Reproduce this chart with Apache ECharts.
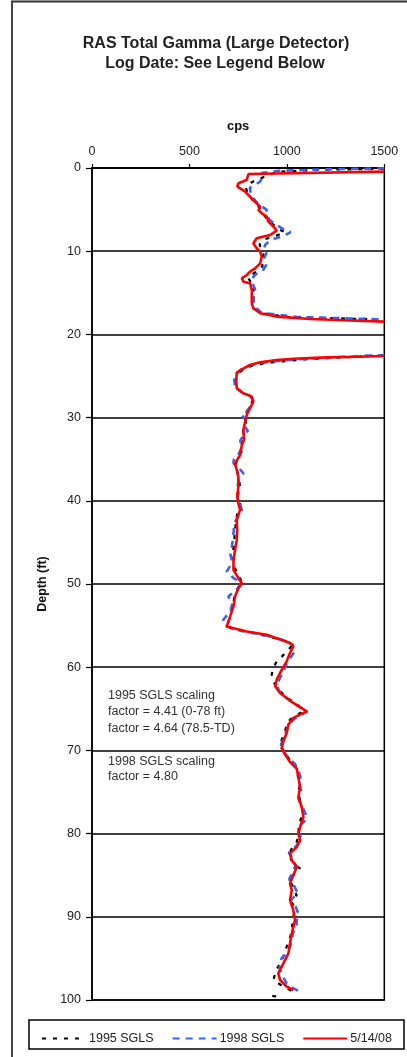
<!DOCTYPE html>
<html>
<head>
<meta charset="utf-8">
<script src="https://cdn.jsdelivr.net/npm/echarts@6/dist/echarts.min.js"></script>
<style>
  html, body { margin: 0; padding: 0; background: #fff; }
  #chart { width: 407px; height: 1057px; }
</style>
</head>
<body>
<div id="chart"></div>
<script>
// Depth axis ticks (ft) and cps axis ticks
const depthTicks = [0, 10, 20, 30, 40, 50, 60, 70, 80, 90, 100];
const cpsTicks = [0, 500, 1000, 1500];

// 1995 SGLS log (depth ft / cps); null = off-scale break
const depth95 = [0.1, 0.2, 0.45, 0.9, 1.3, 1.7, 2.4, 3.2, 4.0, 4.8, 5.6, 6.2, 6.8, 7.4, 7.7, 8.2, 8.6, 9.2, 9.8, 10.4, 11.0, 11.8, 12.4, 12.8, 13.2, 13.7, 14.0, 15.0, 16.0, 16.8, 17.4, 17.9, 18.1, 18.2, 20.5,
  22.5, 22.7, 23.0, 23.4, 23.9, 24.6, 25.5, 26.5, 27.2, 27.5, 28.2, 29.0, 29.8, 30.6, 31.5, 32.4, 33.2, 34.0, 34.8, 35.6, 36.4, 37.2, 38.3, 39.2, 40.0, 40.5, 41.3, 42.2, 43.1, 44.0, 45.1, 46.0, 47.0, 48.0, 49.0, 49.8, 50.6, 51.6, 52.6, 53.6, 54.6, 55.2, 55.7, 56.2, 56.9, 57.4, 58.0, 58.7, 59.3, 60.1, 60.9, 61.5, 62.2, 63.0, 63.8, 64.6, 65.3, 66.0, 66.6, 67.3, 68.1, 68.9, 69.5, 70.2, 71.0, 71.8, 72.6, 73.4, 74.3, 75.2, 76.0, 76.9, 77.8, 78.6, 79.4, 80.2, 81.0, 81.8, 82.6, 83.5, 84.2, 85.0, 85.8, 86.6, 87.4, 88.2, 89.0, 89.8, 90.6, 91.4, 92.2, 93.0, 93.8, 94.8, 95.6, 96.3, 96.9, 97.6, 98.4, 99.0, 99.3, 99.5, 99.6];
const cps95 = [1500, 1200, 950, 900, 860, 820, 790, 800, 830, 860, 880, 900, 930, 960, 990, 940, 880, 860, 870, 880, 870, 875, 850, 820, 800, 815, 830, 830, 825, 830, 860, 1000, 1300, 1500, null,
  1500, 1330, 1090, 900, 800, 752, 738, 742, 790, 832, 820, 800, 784, 790, 775, 782, 765, 770, 748, 738, 745, 752, 760, 746, 752, 762, 748, 740, 736, 730, 734, 722, 726, 732, 752, 770, 748, 730, 722, 712, 700, 695, 780, 890, 1000, 1025, 1005, 975, 948, 930, 922, 930, 940, 970, 1010, 1060, 1085, 1030, 1005, 995, 985, 970, 965, 990, 1010, 1045, 1050, 1060, 1066, 1055, 1070, 1078, 1080, 1066, 1060, 1062, 1050, 1025, 1010, 1030, 1068, 1030, 1018, 1038, 1050, 1025, 1040, 1035, 1030, 1025, 1020, 1010, 995, 982, 965, 948, 939, 931, 982, 1033, null, 925, 950];

// 1998 SGLS log
const depth98 = [0.05, 0.15, 0.35, 0.6, 1.0, 1.7, 2.1, 2.4, 3.2, 4.0, 4.6, 5.0, 5.6, 6.2, 6.7, 7.1, 7.6, 7.7, 8.2, 8.6, 9.2, 9.8, 10.2, 10.8, 11.6, 12.2, 12.6, 13.0, 13.6, 14.2, 14.8, 15.4, 16.2, 16.8, 17.4, 17.9, 18.1, 18.2, 20.5,
  22.5, 22.6, 22.8, 23.0, 23.3, 23.7, 24.3, 24.8, 25.5, 26.4, 27.0, 27.5, 28.1, 28.9, 29.4, 29.7, 30.3, 31.0, 31.6, 32.1, 32.8, 33.4, 34.3, 35.0, 35.5, 36.0, 36.7, 37.3, 38.2, 39.0, 39.8, 40.6, 41.1, 41.9, 42.8, 43.9, 44.8, 45.5, 46.3, 47.2, 48.0, 48.5, 49.2, 49.9, 50.6, 51.5, 52.3, 53.2, 54.3, 55.0, 55.6, 56.1, 56.8, 57.3, 58.1, 58.8, 59.5, 60.4, 61.3, 62.0, 62.8, 63.6, 64.5, 65.3, 66.0, 66.7, 67.5, 68.4, 69.3, 70.0, 70.8, 71.6, 72.4, 73.2, 74.0, 75.0, 75.9, 76.8, 77.6, 78.2, 79.0, 79.8, 80.6, 81.5, 82.3, 83.0, 83.8, 84.6, 85.5, 86.4, 87.2, 88.0, 88.8, 89.6, 90.4, 91.2, 92.0, 92.8, 93.6, 94.3, 95.0, 95.6, 96.4, 97.2, 98.0, 98.6, 99.2];
const cps98 = [1500, 1200, 960, 870, 880, 860, 830, 810, 815, 840, 870, 895, 900, 910, 935, 965, 1000, 1020, 980, 920, 890, 880, 895, 885, 895, 880, 850, 830, 820, 830, 840, 830, 830, 840, 870, 1050, 1350, 1500, null,
  1500, 1380, 1210, 1050, 900, 810, 760, 740, 730, 735, 770, 815, 830, 805, 790, 769, 790, 782, 800, 778, 760, 772, 755, 728, 726, 752, 777, 755, 748, 752, 745, 762, 769, 748, 730, 726, 722, 718, 709, 718, 705, 691, 722, 765, 745, 700, 720, 712, 674, 680, 760, 880, 990, 1030, 1040, 1020, 1000, 985, 965, 950, 958, 990, 1045, 1105, 1050, 1015, 1000, 985, 970, 980, 1005, 1040, 1058, 1070, 1062, 1075, 1060, 1080, 1095, 1102, 1070, 1058, 1075, 1048, 1010, 1030, 1045, 1030, 1012, 1040, 1055, 1020, 1045, 1059, 1050, 1051, 1030, 1025, 1016, 1000, 973, 960, 965, 980, 999, 1033, 1085];

// 5/14/08 log
const depth08 = [0.44, 0.72, 1.44, 1.84, 2.24, 2.84, 3.85, 4.65, 5.05, 5.45, 5.85, 6.45, 7.05, 7.53, 8.05, 8.45, 9.05, 9.65, 10.05, 10.66, 11.46, 12.06, 12.46, 12.86, 13.26, 13.46, 13.66, 13.86, 14.66, 15.46, 16.26, 16.86, 17.46, 17.86, 18.14, 18.3, 18.46, 20.5,
  22.6, 22.68, 22.76, 22.92, 23.08, 23.36, 23.68, 24.2, 24.6, 25.48, 26.48, 27.08, 27.48, 28.08, 28.88, 29.68, 30.48, 31.48, 32.68, 33.28, 34.5, 35.5, 36.3, 37.1, 38.3, 39.5, 40.3, 41.1, 42.3, 43.5, 44.7, 45.9, 47.1, 48.3, 49.3, 49.9, 50.5, 51.5, 52.7, 53.9, 55.1, 55.7, 56.1, 57.1, 57.5, 58.3, 59.3, 60.3, 61.5, 62.3, 63.1, 64.3, 65.3, 66.1, 66.9, 67.9, 68.9, 69.7, 70.5, 71.4, 72.2, 73.2, 74.4, 75.6, 76.8, 78.0, 79.2, 80.0, 80.8, 81.6, 82.4, 83.2, 84.0, 85.0, 86.0, 86.8, 88.0, 89.2, 90.4, 92.0, 93.2, 94.4, 95.6, 96.8, 97.6, 98.4, 98.8];
const cps08 = [1500, 803, 794, 751, 746, 786, 828, 863, 854, 871, 897, 905, 931, 948, 914, 845, 828, 845, 863, 871, 863, 837, 811, 794, 769, 760, 777, 811, 820, 820, 820, 828, 863, 948, 1119, 1290, 1500, null,
  1500, 1375, 1204, 1033, 948, 863, 811, 769, 743, 740, 743, 777, 820, 828, 811, 794, 786, 777, 780, 769, 760, 734, 743, 751, 751, 746, 751, 760, 743, 745, 743, 734, 726, 726, 751, 769, 751, 734, 726, 709, 691, 794, 897, 1016, 1033, 1016, 999, 974, 948, 940, 965, 1033, 1102, 1033, 1008, 999, 982, 974, 991, 1016, 1051, 1059, 1068, 1059, 1076, 1085, 1068, 1059, 1068, 1051, 1016, 1025, 1051, 1033, 1016, 1025, 1016, 1033, 1042, 1025, 1016, 1008, 982, 956, 965, 999, 1033];

const seriesNames = ['1995 SGLS', '1998 SGLS', '5/14/08'];

const notes95 = ['1995 SGLS scaling', 'factor = 4.41 (0-78 ft)', 'factor = 4.64 (78.5-TD)'];
const notes98 = ['1998 SGLS scaling', 'factor = 4.80'];

function pairs(depths, values) {
  return depths.map((d, i) => values[i] === null ? ['-', d] : [values[i], d]);
}

const chart = echarts.init(document.getElementById('chart'), null, { renderer: 'canvas' });
const font = 'Liberation Sans, Arial, sans-serif';

const noteText = (lines, y0, step) => lines.map((t, i) => ({
  type: 'text', left: 108, top: y0 + i * step,
  style: { text: t, fill: '#333', font: '12.5px ' + font, textVerticalAlign: 'middle' }
}));

chart.setOption({
  animation: false,
  backgroundColor: '#fff',
  textStyle: { fontFamily: font },
  grid: {
    left: 92, right: 22.7, top: 168, bottom: 57,
    show: true, borderColor: '#000', borderWidth: 1.5, backgroundColor: 'transparent'
  },
  xAxis: {
    type: 'value', position: 'top', min: cpsTicks[0], max: cpsTicks[cpsTicks.length - 1], interval: 500,
    name: 'cps', nameLocation: 'middle', nameGap: 35,
    nameTextStyle: { fontWeight: 'bold', fontSize: 13, color: '#111' },
    axisLine: { show: true, lineStyle: { color: '#000', width: 1.5 } },
    axisTick: { show: true, length: 4, lineStyle: { color: '#000', width: 1.2 } },
    axisLabel: { fontSize: 12.5, color: '#222', margin: 10, formatter: v => String(v) },
    splitLine: { show: false }
  },
  yAxis: {
    type: 'value', inverse: true, min: depthTicks[0], max: depthTicks[depthTicks.length - 1], interval: 10,
    name: 'Depth (ft)', nameLocation: 'middle', nameGap: 40,
    nameTextStyle: { fontWeight: 'bold', fontSize: 12.5, color: '#111' },
    axisLine: { show: true, lineStyle: { color: '#000', width: 1.5 } },
    axisTick: { show: true, length: 6, lineStyle: { color: '#000', width: 1.2 } },
    axisLabel: { fontSize: 12.5, color: '#222', margin: 11, formatter: v => String(v) },
    splitLine: { show: true, lineStyle: { color: '#000', width: 1.5 } }
  },
  legend: {
    left: 36, top: 1027, itemWidth: 44, itemHeight: 14, itemGap: 18,
    itemStyle: { opacity: 0 },
    textStyle: { fontSize: 12.5, color: '#222', padding: [0, 0, 0, -2] },
    data: seriesNames
  },
  series: [
    {
      name: seriesNames[0], type: 'line', symbol: 'none', clip: true,
      data: pairs(depth95, cps95),
      lineStyle: { color: '#000', width: 2.2, type: [4, 7] }, itemStyle: { color: '#000' }
    },
    {
      name: seriesNames[1], type: 'line', symbol: 'none', clip: true,
      data: pairs(depth98, cps98),
      lineStyle: { color: '#3a63f5', width: 2.6, type: [7, 6] }, itemStyle: { color: '#3a63f5' }
    },
    {
      name: seriesNames[2], type: 'line', symbol: 'none', clip: true,
      data: pairs(depth08, cps08),
      lineStyle: { color: '#ff0000', width: 2.6 }, itemStyle: { color: '#ff0000' }
    }
  ],
  graphic: [
    // outer frame (left and top edges visible)
    { type: 'rect', shape: { x: 12, y: 1.5, width: 420, height: 1100 }, style: { fill: 'none', stroke: '#333', lineWidth: 1.8 }, z: 0 },
    // legend box
    { type: 'rect', shape: { x: 29, y: 1020, width: 375, height: 29 }, style: { fill: 'none', stroke: '#000', lineWidth: 1.5 } },
    { type: 'text', x: 216, y: 44, style: { text: 'RAS Total Gamma (Large Detector)', fill: '#222', font: 'bold 16px ' + font, textAlign: 'center', textVerticalAlign: 'middle' } },
    { type: 'text', x: 215, y: 64, style: { text: 'Log Date: See Legend Below', fill: '#222', font: 'bold 16px ' + font, textAlign: 'center', textVerticalAlign: 'middle' } }
  ].concat(noteText(notes95, 689, 16.5), noteText(notes98, 755, 15.5))
});
</script>
</body>
</html>
